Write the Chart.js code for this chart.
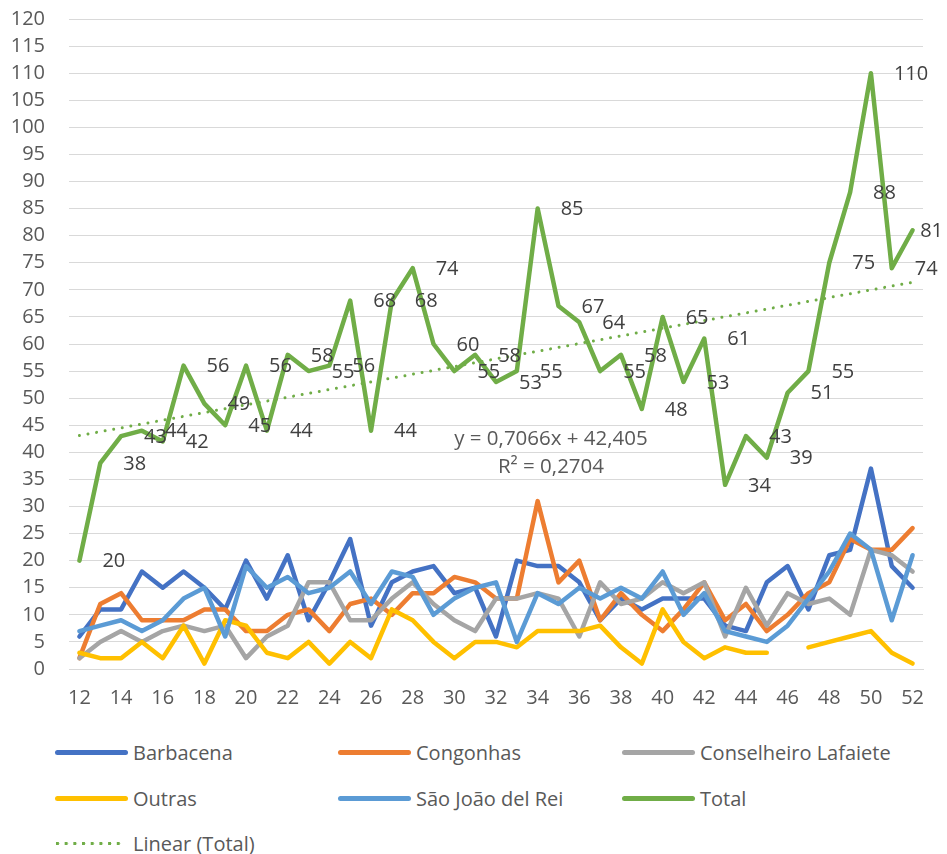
<!DOCTYPE html>
<html>
<head>
<meta charset="utf-8">
<script src="https://cdn.jsdelivr.net/npm/chart.js@4.4.1/dist/chart.umd.min.js"></script>
<style>
  html, body { margin: 0; padding: 0; background: #ffffff; }
  #wrap { position: relative; width: 947px; height: 854px; overflow: hidden; font-family: "Open Sans", sans-serif; }
  #c { position: absolute; left: 0; top: -17px; }
  .lg { position: absolute; display: flex; align-items: center; height: 30px; color: #595959; font-size: 20px; white-space: nowrap; }
  .lg .sw { width: 73px; height: 5px; border-radius: 3px; margin-right: 5px; }
  .lg .dot { width: 70px; height: 5px; margin-right: 8px; background-size: 8.7px 5px; background-repeat: repeat-x; }
</style>
</head>
<body>
<div id="wrap">
  <canvas id="c" width="947" height="737"></canvas>
  <div id="legend"></div>
</div>
<script>
const weeks = ['12','13','14','15','16','17','18','19','20','21','22','23','24','25','26','27','28','29','30','31','32','33','34','35','36','37','38','39','40','41','42','43','44','45','46','47','48','49','50','51','52'];

const barbacena = [6,11,11,18,15,18,15,11,20,13,21,9,16,24,8,16,18,19,14,15,6,20,19,19,16,9,13,11,13,13,13,8,7,16,19,11,21,22,37,19,15];
const congonhas = [2,12,14,9,9,9,11,11,7,7,10,11,7,12,13,10,14,14,17,16,13,13,31,16,20,9,14,10,7,11,16,9,12,7,10,14,16,24,22,22,26];
const conselheiroLafaiete = [2,5,7,5,7,8,7,8,2,6,8,16,16,9,9,13,16,12,9,7,13,13,14,13,6,16,12,13,16,14,16,6,15,8,14,12,13,10,22,21,18];
const outras = [3,2,2,5,2,8,1,9,8,3,2,5,1,5,2,11,9,5,2,5,5,4,7,7,7,8,4,1,11,5,2,4,3,3,null,4,5,6,7,3,1];
const saoJoaoDelRei = [7,8,9,7,9,13,15,6,19,15,17,14,15,18,12,18,17,10,13,15,16,5,14,12,15,13,15,13,18,10,14,7,6,5,8,13,18,25,22,9,21];
const total = [20,38,43,44,42,56,49,45,56,44,58,55,56,68,44,68,74,60,55,58,53,55,85,67,64,55,58,48,65,53,61,34,43,39,51,55,75,88,110,74,81];

// Linear trendline of Total, end points (y = 0,7066x + 42,405)
const trendStart = 43.1;
const trendEnd = 71.4;
const trendLine = weeks.map((w, i) => i === 0 ? trendStart : (i === weeks.length - 1 ? trendEnd : null));

const trendText = ['y = 0,7066x + 42,405', 'R\u00B2 = 0,2704'];
const yTicks = { min: 0, max: 120, step: 5 };

const FONT = '"Open Sans", sans-serif';
const TXT = '#595959';
const SHIFT = 17; // canvas is placed 17px higher in the page

function lineDs(label, data, color, order) {
  return { label, data, borderColor: color, backgroundColor: color, borderWidth: 4.5,
    pointRadius: 0, pointHoverRadius: 0, tension: 0, spanGaps: false, order,
    borderJoinStyle: 'round', borderCapStyle: 'round', fill: false };
}

const datasets = [
  lineDs('Barbacena', barbacena, '#4472C4', 6),
  lineDs('Congonhas', congonhas, '#ED7D31', 5),
  lineDs('Conselheiro Lafaiete', conselheiroLafaiete, '#A5A5A5', 4),
  lineDs('Outras', outras, '#FFC000', 3),
  lineDs('S\u00E3o Jo\u00E3o del Rei', saoJoaoDelRei, '#5B9BD5', 2),
  lineDs('Total', total, '#70AD47', 1),
  Object.assign(lineDs('Linear (Total)', trendLine, '#70AD47', 0),
    { borderWidth: 3, borderDash: [0.01, 8.7], borderCapStyle: 'round', spanGaps: true, isTrend: true })
];

const labelPlugin = {
  id: 'totalLabels',
  afterDatasetsDraw(chart) {
    const ctx = chart.ctx;
    const idx = chart.data.datasets.findIndex(d => d.label === 'Total');
    const meta = chart.getDatasetMeta(idx);
    ctx.save();
    ctx.font = '20px ' + FONT;
    ctx.fillStyle = '#404040';
    ctx.textAlign = 'left';
    ctx.textBaseline = 'middle';
    meta.data.forEach((pt, i) => {
      const txt = String(total[i]);
      const w = ctx.measureText(txt).width;
      let x = pt.x + 23;
      if (x + w > chart.width - 4) x = chart.width - 4 - w;
      ctx.fillText(txt, x, pt.y + 1);
    });
    // trendline equation
    ctx.fillStyle = TXT;
    ctx.textAlign = 'center';
    ctx.font = '20.5px ' + FONT;
    ctx.fillText(trendText[0], 551, 439 + SHIFT);
    ctx.fillText(trendText[1], 551, 467 + SHIFT);
    ctx.restore();
  }
};

function build() {
  const chart = new Chart(document.getElementById('c'), {
    type: 'line',
    data: { labels: weeks, datasets },
    options: {
      responsive: false,
      animation: false,
      events: [],
      layout: { padding: { left: 0, right: 24, top: 1, bottom: 0 } },
      plugins: { legend: { display: false }, tooltip: { enabled: false } },
      scales: {
        x: {
          type: 'category',
          offset: true,
          grid: { display: false, drawTicks: false },
          border: { display: true, color: '#d9d9d9', width: 1 },
          ticks: {
            autoSkip: false, maxRotation: 0, minRotation: 0, padding: 17,
            color: TXT, font: { family: FONT, size: 20 },
            callback: (v, i) => (i % 2 === 0 ? weeks[i] : '')
          },
          afterFit: s => { s.height = 51; }
        },
        y: {
          min: yTicks.min, max: yTicks.max,
          grid: { color: '#d9d9d9', lineWidth: 1, drawTicks: false },
          border: { display: false },
          ticks: { stepSize: yTicks.step, autoSkip: false, padding: 24, color: TXT, font: { family: FONT, size: 20 } },
          afterFit: s => { s.width = 69; }
        }
      }
    },
    plugins: [labelPlugin]
  });

  // HTML legend built from the chart datasets
  const leg = document.getElementById('legend');
  const cols = [55, 338, 622];
  const rows = [752, 798, 843];
  chart.data.datasets.forEach((ds, i) => {
    const el = document.createElement('div');
    el.className = 'lg';
    el.style.left = cols[i % 3] + 'px';
    el.style.top = (rows[Math.floor(i / 3)] - 15) + 'px';
    const sw = document.createElement('div');
    if (ds.isTrend) {
      sw.className = 'dot';
      sw.style.backgroundImage = 'radial-gradient(circle at 2.5px 2.5px, ' + ds.borderColor + ' 1.5px, transparent 2px)';
    } else {
      sw.className = 'sw';
      sw.style.background = ds.borderColor;
    }
    const t = document.createElement('span');
    t.textContent = ds.label;
    el.appendChild(sw);
    el.appendChild(t);
    leg.appendChild(el);
  });
}

if (document.fonts && document.fonts.load) {
  document.fonts.load('20px "Open Sans"').then(build, build);
} else {
  build();
}
</script>
</body>
</html>
